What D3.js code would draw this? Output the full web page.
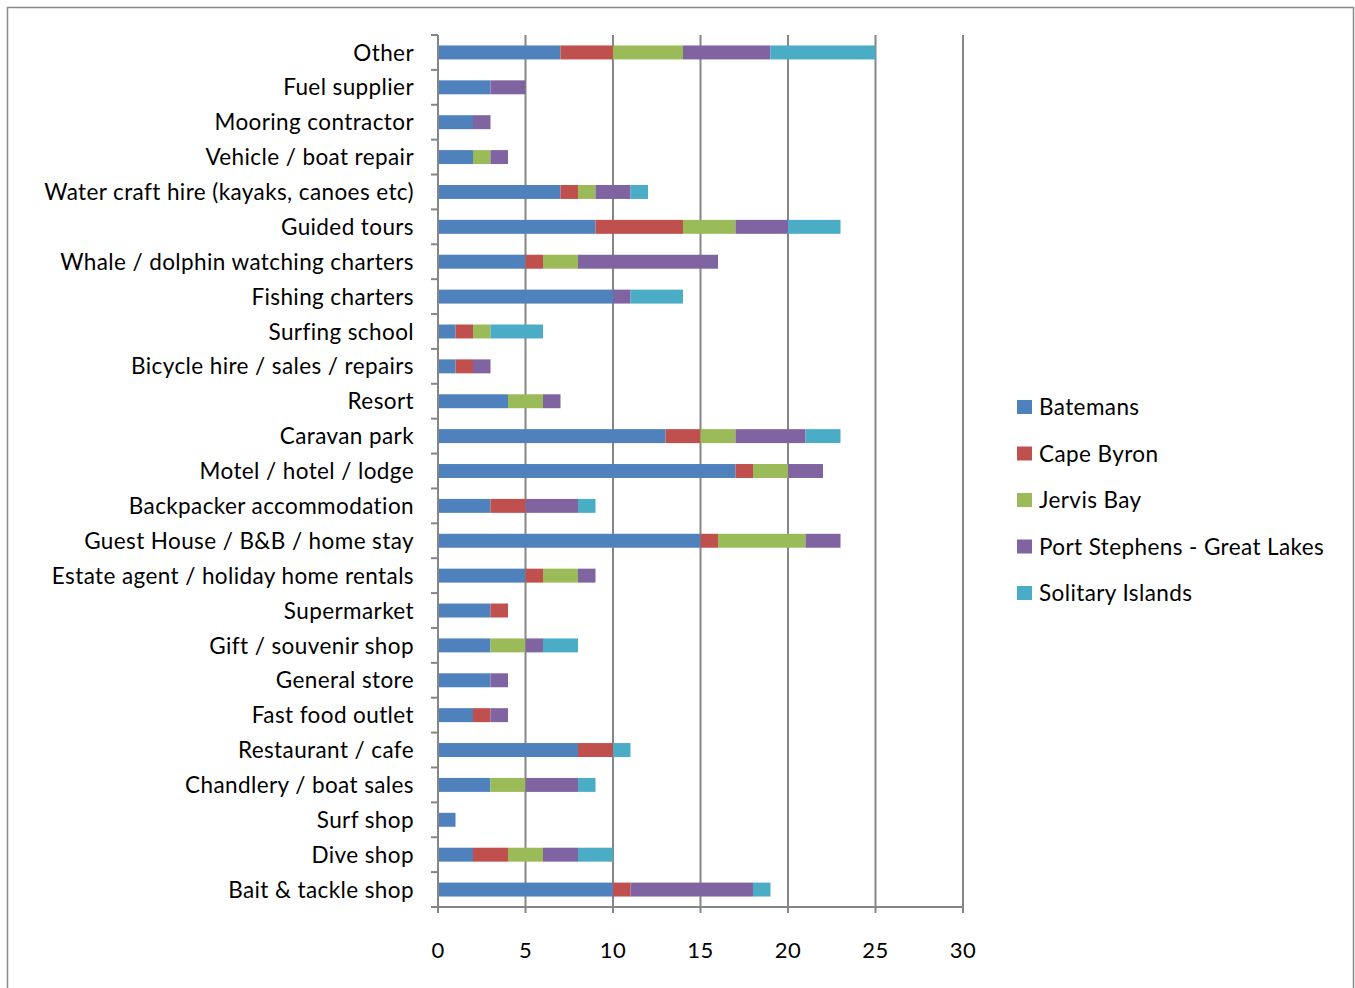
<!DOCTYPE html>
<html><head><meta charset="utf-8">
<script src="https://cdn.jsdelivr.net/npm/d3@7"></script>
<style>body{margin:0;background:#fff}svg{display:block}text{font-family:Lato,"Open Sans",sans-serif;fill:#000;letter-spacing:0.4px}</style>
</head><body><svg id="c" width="1355" height="988"></svg>
<script>
const categories = ["Other","Fuel supplier","Mooring contractor","Vehicle / boat repair","Water craft hire (kayaks, canoes etc)","Guided tours","Whale / dolphin watching  charters","Fishing charters","Surfing school","Bicycle hire / sales / repairs","Resort","Caravan park","Motel / hotel / lodge","Backpacker accommodation","Guest House / B&B / home stay","Estate agent / holiday home rentals","Supermarket","Gift / souvenir shop","General store","Fast food outlet","Restaurant / cafe","Chandlery / boat sales","Surf shop","Dive shop","Bait & tackle shop"];
const seriesNames = ["Batemans","Cape Byron","Jervis Bay","Port Stephens - Great Lakes","Solitary Islands"];
const batemans    = [7,3,2,2,7,9,5,10,1,1,4,13,17,3,15,5,3,3,3,2,8,3,1,2,10];
const capeByron   = [3,0,0,0,1,5,1,0,1,1,0,2,1,2,1,1,1,0,0,1,2,0,0,2,1];
const jervisBay   = [4,0,0,1,1,3,2,0,1,0,2,2,2,0,5,2,0,2,0,0,0,2,0,2,0];
const portStephens= [5,2,1,1,2,3,8,1,0,1,1,4,2,3,2,1,0,1,1,1,0,3,0,2,7];
const solitary    = [6,0,0,0,1,3,0,3,3,0,0,2,0,1,0,0,0,2,0,0,1,1,0,2,1];
const xTicks = [0,5,10,15,20,25,30];
const colors = ["#4F81BD","#C0504D","#9BBB59","#8064A2","#4BACC6"];

const seriesVals = [batemans,capeByron,jervisBay,portStephens,solitary];
const rows = categories.map((c,i)=>{const o={cat:c};seriesNames.forEach((s,j)=>o[s]=seriesVals[j][i]);return o;});
const stacked = d3.stack().keys(seriesNames)(rows);

const svg = d3.select("#c");
svg.append("rect").attr("x",7.5).attr("y",7.5).attr("width",1346).attr("height",990)
  .attr("fill","#fff").attr("stroke","#8a8a8a").attr("stroke-width",1.5);

const L=438,R=963,T=35,B=907;
const x = d3.scaleLinear().domain([0,30]).range([L,R]);
const y = d3.scaleBand().domain(categories).range([T,B]).paddingInner(0.6).paddingOuter(0.3);
const yb = d3.scaleBand().domain(categories).range([T,B]);

const g = svg.append("g");
g.selectAll("line.grid").data(xTicks.slice(1)).join("line")
  .attr("x1",d=>x(d)).attr("x2",d=>x(d)).attr("y1",T).attr("y2",B)
  .attr("stroke","#868686").attr("stroke-width",2);

g.selectAll("g.s").data(stacked).join("g").attr("fill",(d,i)=>colors[i])
 .selectAll("rect").data(d=>d.filter(p=>p[1]>p[0])).join("rect")
 .attr("x",d=>x(d[0])).attr("width",d=>x(d[1])-x(d[0]))
 .attr("y",d=>y(d.data.cat)).attr("height",y.bandwidth());

const ya = g.append("g");
ya.append("line").attr("x1",L).attr("x2",L).attr("y1",T).attr("y2",B+6).attr("stroke","#868686").attr("stroke-width",2);
const bounds = categories.map(c=>yb(c)).concat([B]);
ya.selectAll("line.t").data(bounds).join("line").attr("x1",L-7).attr("x2",L).attr("y1",d=>d).attr("y2",d=>d)
  .attr("stroke","#868686").attr("stroke-width",2);
ya.selectAll("text").data(categories).join("text")
  .attr("x",414).attr("y",d=>yb(d)+yb.bandwidth()/2).attr("dy","0.36em")
  .attr("text-anchor","end").attr("font-size",22.5).text(d=>d);

const xa = g.append("g");
xa.append("line").attr("x1",L-7).attr("x2",R).attr("y1",B).attr("y2",B).attr("stroke","#868686").attr("stroke-width",2);
xa.selectAll("line.t").data(xTicks).join("line").attr("x1",d=>x(d)).attr("x2",d=>x(d)).attr("y1",B).attr("y2",B+6)
  .attr("stroke","#868686").attr("stroke-width",2);
xa.selectAll("text").data(xTicks).join("text").attr("x",d=>x(d)).attr("y",950).attr("dy","0.36em")
  .attr("text-anchor","middle").attr("font-size",22).text(d=>d);

const lg = svg.append("g");
seriesNames.forEach((s,i)=>{
  const yy = 407 + i*46.5;
  lg.append("rect").attr("x",1017).attr("y",yy-7).attr("width",15).attr("height",14).attr("fill",colors[i]);
  lg.append("text").attr("x",1039).attr("y",yy).attr("dy","0.36em").attr("font-size",22.5).text(s);
});
</script></body></html>
